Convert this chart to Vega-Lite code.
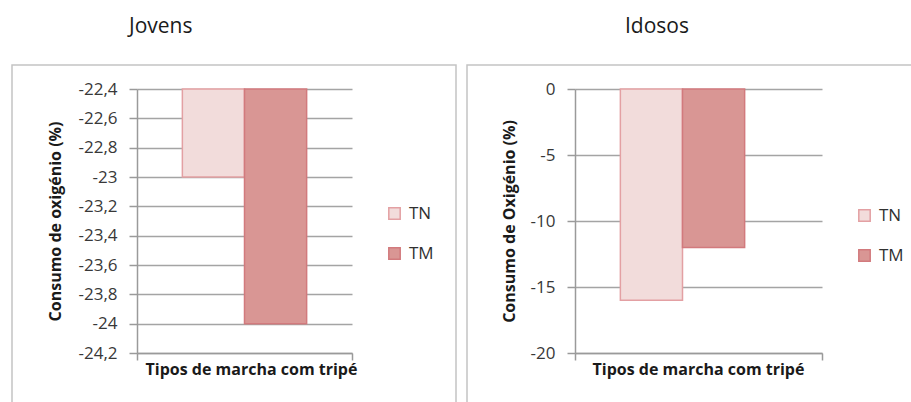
{
  "$schema": "https://vega.github.io/schema/vega-lite/v6.json",
  "padding": {"left": 11, "top": 15, "right": 0, "bottom": 0},
  "spacing": 9,
  "background": "white",
  "config": {
    "font": "Open Sans",
    "view": {"stroke": "#c4c4c4", "strokeWidth": 1.5},
    "axis": {
      "domainColor": "#9a9a9a", "domainWidth": 1.5,
      "tickColor": "#9a9a9a", "tickWidth": 1.5, "tickSize": 8,
      "gridColor": "#a4a4a4", "gridWidth": 1.5,
      "labelFont": "Open Sans", "labelFontSize": 17, "labelColor": "#383838", "labelPadding": 12,
      "titleFont": "Open Sans", "titleFontWeight": "bold", "titleColor": "#1a1a1a"
    },
    "legend": {
      "orient": "none", "symbolType": "square", "symbolSize": 130, "symbolStrokeWidth": 1.5,
      "labelFont": "Open Sans", "labelFontSize": 17, "labelColor": "#303030", "labelOffset": 6,
      "rowPadding": 21, "title": null
    },
    "title": {"font": "Open Sans", "fontSize": 21, "fontWeight": "normal", "color": "#1a1a1a"}
  },
  "datasets": {
    "jovens": [
      {"grupo": "Tipos de marcha com tripé", "Tipo": "TN", "valor": -23.0},
      {"grupo": "Tipos de marcha com tripé", "Tipo": "TM", "valor": -24.0}
    ],
    "idosos": [
      {"grupo": "Tipos de marcha com tripé", "Tipo": "TN", "valor": -16},
      {"grupo": "Tipos de marcha com tripé", "Tipo": "TM", "valor": -12}
    ]
  },
  "hconcat": [
    {
      "width": 444,
      "height": 345,
      "title": {"text": "Jovens", "anchor": "start", "dx": 117, "baseline": "bottom", "offset": 7},
      "data": {"name": "jovens"},
      "mark": {"type": "bar", "strokeWidth": 1.5},
      "encoding": {
        "x": {
          "field": "grupo", "type": "nominal",
          "scale": {"range": [125, 340], "paddingInner": 0, "paddingOuter": 0},
          "axis": {"title": "Tipos de marcha com tripé", "labels": false, "offset": -57, "tickBand": "extent", "tickSize": 7, "titleFontSize": 16, "titleY": 16, "titleX": 239, "titleBaseline": "middle", "grid": false}
        },
        "xOffset": {"field": "Tipo", "type": "nominal", "scale": {"domain": ["TN", "TM"], "paddingOuter": 0.73, "paddingInner": 0}},
        "y": {
          "field": "valor", "type": "quantitative",
          "scale": {"domain": [-24.2, -22.4], "range": [288, 24], "nice": false, "zero": false},
          "axis": {"title": "Consumo de oxigénio (%)", "titleFontSize": 16, "offset": -125, "values": [-22.4, -22.6, -22.8, -23, -23.2, -23.4, -23.6, -23.8, -24, -24.2], "labelExpr": "replace(toString(datum.value), '.', ',')", "grid": true, "titleAngle": -90, "titleX": -82, "titleBaseline": "middle"}
        },
        "y2": {"datum": -22.4},
        "fill": {"field": "Tipo", "type": "nominal", "scale": {"domain": ["TN", "TM"], "range": ["#f2dcdb", "#d99694"]}, "legend": {"legendX": 374, "legendY": 140}},
        "stroke": {"field": "Tipo", "type": "nominal", "scale": {"domain": ["TN", "TM"], "range": ["#e3a0a3", "#d27a7d"]}, "legend": {"legendX": 374, "legendY": 140}}
      }
    },
    {
      "width": 446,
      "height": 345,
      "title": {"text": "Idosos", "anchor": "start", "dx": 158, "baseline": "bottom", "offset": 7},
      "data": {"name": "idosos"},
      "mark": {"type": "bar", "strokeWidth": 1.5},
      "encoding": {
        "x": {
          "field": "grupo", "type": "nominal",
          "scale": {"range": [108, 355], "paddingInner": 0, "paddingOuter": 0},
          "axis": {"title": "Tipos de marcha com tripé", "labels": false, "offset": -57, "tickBand": "extent", "tickSize": 7, "titleFontSize": 16, "titleY": 16, "titleX": 231, "titleBaseline": "middle", "grid": false}
        },
        "xOffset": {"field": "Tipo", "type": "nominal", "scale": {"domain": ["TN", "TM"], "paddingOuter": 0.727, "paddingInner": 0}},
        "y": {
          "field": "valor", "type": "quantitative",
          "scale": {"domain": [-20, 0], "range": [288, 24], "nice": false, "zero": false},
          "axis": {"title": "Consumo de Oxigénio (%)", "titleFontSize": 16, "offset": -108, "values": [0, -5, -10, -15, -20], "labelExpr": "replace(toString(datum.value), '.', ',')", "grid": true, "titleAngle": -90, "titleX": -66, "titleBaseline": "middle"}
        },
        "y2": {"datum": 0},
        "fill": {"field": "Tipo", "type": "nominal", "scale": {"domain": ["TN", "TM"], "range": ["#f2dcdb", "#d99694"]}, "legend": {"legendX": 389, "legendY": 142}},
        "stroke": {"field": "Tipo", "type": "nominal", "scale": {"domain": ["TN", "TM"], "range": ["#e3a0a3", "#d27a7d"]}, "legend": {"legendX": 389, "legendY": 142}}
      }
    }
  ],
  "resolve": {"legend": {"fill": "independent", "stroke": "independent"}}
}
